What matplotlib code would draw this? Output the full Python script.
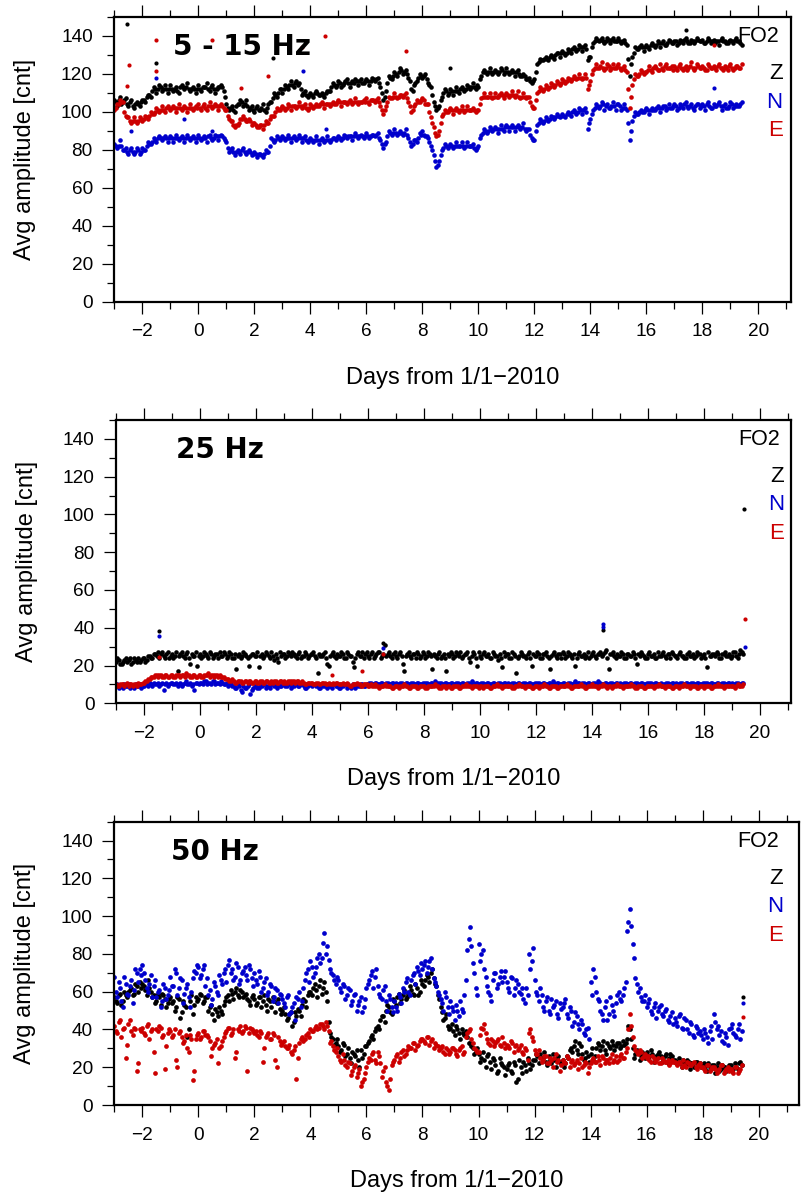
import numpy as np
import matplotlib
matplotlib.use('Agg')
import matplotlib.pyplot as plt
from matplotlib.ticker import MultipleLocator

# sampling times (days from 1/1-2010): 0.1 day step, plus half-step samples
days = np.round(np.arange(-3.0, 19.45, 0.1), 1)
days_mid = np.round(days[:-1] + 0.05, 2)

# ---------------- Panel 1: 5 - 15 Hz ----------------
z_5_15 = [
    106,103,108,105,107,103,106,102,105,103,
    106,105,109,108,113,110,114,111,114,110,
    114,111,113,110,114,112,115,111,113,110,
    114,111,113,115,111,114,110,113,114,111,
    104,101,103,100,104,106,103,106,101,103,
    100,103,101,104,100,104,105,110,108,112,
    110,114,112,116,113,116,115,109,111,108,
    110,108,111,109,110,108,111,111,115,113,
    116,113,115,117,113,116,117,114,117,115,
    117,114,118,116,118,113,106,111,119,117,
    121,119,123,120,122,118,112,114,116,120,
    118,120,115,113,105,101,103,108,112,109,
    112,109,113,110,113,111,114,112,115,112,
    113,119,122,120,123,120,122,120,123,120,
    123,120,122,119,122,119,120,117,118,115,
    117,125,128,127,129,127,130,128,131,129,
    132,130,133,131,134,132,135,132,135,127,
    129,136,139,137,139,136,139,136,139,137,
    139,136,138,135,119,129,134,133,135,132,
    135,133,136,134,137,134,137,135,138,136,
    137,135,138,136,139,136,138,136,139,137,
    138,136,139,136,138,137,135,139,137,136,
    138,136,139,137,135]
z_5_15_mid = [
    105,106,104,106,104,105,103,104,104,105,
    106,108,109,111,112,112,113,112,112,112,
    112,112,111,113,113,113,112,112,112,112,
    112,113,113,112,113,112,112,113,113,108,
    102,102,101,103,104,105,104,103,102,101,
    102,101,102,101,102,105,107,109,110,112,
    112,113,114,114,115,114,112,110,109,109,
    109,110,110,109,109,110,111,113,114,114,
    115,114,116,115,115,115,116,116,115,116,
    116,116,117,117,115,110,108,115,118,119,
    120,121,122,121,120,116,111,115,118,119,
    119,117,114,109,103,102,106,110,111,110,
    111,111,111,112,112,112,113,113,113,114,
    117,121,121,121,121,121,121,121,122,121,
    121,121,121,121,120,119,119,117,116,116,
    121,126,127,128,128,129,129,130,131,131,
    131,131,132,133,133,133,134,134,133,129,
    134,137,138,138,137,137,138,138,137,137,
    137,137,136,128,125,131,133,134,134,134,
    134,135,135,135,136,136,135,136,137,136,
    137,136,137,138,137,136,137,137,138,137,
    136,137,138,137,136,137,138,137,136,137,
    137,138,137,136]
n_5_15 = [
    83,81,85,80,81,78,81,78,81,78,
    81,80,84,83,86,84,87,85,87,84,
    87,84,88,85,87,84,88,85,87,84,
    88,85,87,84,88,85,88,85,88,86,
    84,79,81,77,80,78,81,78,80,77,
    79,76,78,76,80,79,86,84,87,85,
    87,85,88,84,87,85,88,84,87,84,
    86,84,87,83,86,84,87,84,86,85,
    87,85,88,86,87,85,89,86,88,86,
    89,86,88,87,89,85,81,84,90,88,
    91,88,90,88,91,86,82,85,84,89,
    90,87,86,82,77,71,74,80,83,81,
    83,81,84,82,84,81,84,82,83,80,
    82,88,91,89,92,90,92,89,93,90,
    93,90,93,90,93,91,94,90,91,86,
    85,93,96,94,97,95,98,96,99,97,
    99,97,100,98,101,99,102,99,102,91,
    96,101,104,102,105,101,104,102,105,101,
    104,101,104,101,85,95,100,99,101,100,
    102,99,102,101,103,100,103,101,104,102,
    104,101,104,102,105,102,104,101,104,102,
    104,101,105,102,104,103,105,101,104,102,
    105,102,104,103,105]
n_5_15_mid = [
    82,82,82,80,79,80,79,79,80,79,
    80,82,83,84,85,86,86,86,86,86,
    86,86,86,86,86,86,86,86,86,86,
    86,86,86,87,86,86,87,87,87,85,
    81,80,79,79,79,80,79,79,79,78,
    78,78,77,78,79,82,85,85,86,86,
    86,86,86,86,86,86,86,86,85,85,
    85,85,85,85,85,85,85,85,86,86,
    86,86,87,87,87,87,87,87,87,87,
    87,87,88,88,86,83,83,87,89,89,
    89,89,89,89,88,84,83,85,86,88,
    88,87,84,80,74,72,77,81,82,82,
    82,82,82,82,82,82,82,82,81,81,
    86,89,90,90,91,91,91,91,91,92,
    92,92,92,92,92,92,91,91,88,85,
    90,94,95,95,96,96,97,97,98,98,
    98,99,99,100,100,100,101,101,100,94,
    99,102,103,103,104,103,102,103,103,104,
    103,102,102,94,90,98,99,100,100,101,
    101,101,101,102,102,102,103,102,102,103,
    103,102,103,104,103,103,102,103,104,103,
    103,104,103,102,103,104,103,103,102,103,
    104,103,103,104]
e_5_15 = [
    101,104,106,105,98,97,94,97,94,97,
    95,98,96,100,99,102,100,103,100,103,
    101,103,100,104,101,103,100,104,101,103,
    104,101,104,101,105,102,104,101,104,102,
    101,96,95,92,93,96,98,95,96,93,
    94,92,93,91,95,94,98,98,102,101,
    103,101,104,101,103,102,105,102,104,101,
    104,102,104,103,105,102,104,103,105,104,
    106,103,105,104,106,104,107,104,105,106,
    107,104,106,105,107,103,99,103,108,107,
    110,107,109,108,110,105,100,103,106,105,
    107,104,104,97,92,87,90,98,101,100,
    102,99,102,100,103,100,103,101,102,100,
    101,107,110,108,110,107,110,108,110,107,
    110,108,111,108,111,107,110,107,108,103,
    102,110,113,111,114,112,115,113,116,114,
    117,115,118,116,119,117,120,117,120,112,
    116,122,125,123,126,122,125,122,125,123,
    125,122,124,121,102,114,120,119,122,120,
    121,124,121,124,122,125,122,125,123,124,
    124,122,125,122,124,123,126,122,125,123,
    124,122,125,123,124,122,125,123,124,122,
    125,122,124,123,125]
e_5_15_mid = [
    102,104,105,100,97,95,95,95,95,96,
    96,97,98,99,100,101,101,101,102,102,
    102,102,102,102,102,102,102,102,102,102,
    102,103,102,103,103,103,103,103,103,101,
    98,95,93,93,94,96,96,95,95,94,
    93,92,93,93,94,96,98,100,101,102,
    102,102,103,103,103,103,103,103,102,102,
    103,103,103,104,104,104,104,104,104,105,
    105,105,105,105,105,105,105,105,105,105,
    105,106,106,106,105,101,101,105,107,108,
    108,108,109,109,107,103,101,104,105,106,
    106,104,100,94,89,88,94,99,100,101,
    101,101,101,101,101,101,101,101,101,101,
    104,108,108,108,108,108,108,109,109,109,
    109,109,109,109,108,108,108,108,105,102,
    106,111,112,112,113,113,114,114,115,115,
    116,116,117,117,118,118,118,118,118,114,
    120,123,123,124,123,123,124,123,123,124,
    123,123,122,112,108,117,119,120,121,121,
    122,122,123,123,122,123,124,123,123,122,
    123,124,123,123,122,124,123,123,124,123,
    123,122,124,123,123,124,123,122,123,124,
    123,123,124,123]
# isolated points
z_5_15_out_days = [-2.55, -1.51, 2.67, 9.0, 17.4]
z_5_15_out_vals = [146, 125.6, 128.3, 123, 143]
n_5_15_out_days = [-1.51, 3.73, -0.5, -2.4, 0.5, 4.56, 18.4]
n_5_15_out_vals = [118, 121.5, 96, 90, 90, 91, 112.5]
e_5_15_out_days = [-1.51, 0.49, 4.53, -2.49, -1.51, 2.47, 3.7, -2.56, 1.52, 7.4, 18.4]
e_5_15_out_vals = [137.8, 137.8, 139.6, 124.7, 121.5, 118.6, 134, 113.6, 112.5, 132, 135.3]

# ---------------- Panel 2: 25 Hz ----------------
z_25 = [
    22,23,21,23,22,24,22,23,24,23,
    24,23,25,24,26,27,26,25,26,24,
    26,25,17,26,25,26,24,26,25,20,
    26,25,26,24,26,25,26,27,25,26,
    25,26,24,18,26,25,26,24,25,26,
    25,19,26,25,26,24,25,26,22,25,
    26,25,26,27,25,26,24,25,26,25,
    26,25,16,25,26,24,20,26,25,26,
    25,26,24,26,25,19,26,25,27,26,
    25,26,24,26,27,25,31,26,25,26,
    25,26,25,17,26,25,26,24,26,25,
    26,25,26,18,25,26,24,26,17,25,
    26,25,26,27,25,26,24,25,26,20,
    25,26,25,26,24,26,25,26,19,25,
    26,24,26,16,25,26,25,26,24,26,
    25,26,24,26,25,18,26,25,26,24,
    26,25,26,24,20,26,25,26,25,24,
    26,25,26,27,26,28,18,26,25,26,
    25,26,24,26,25,26,21,25,26,24,
    26,25,26,24,25,26,25,26,24,26,
    25,26,25,24,26,25,26,25,26,24,
    26,19,25,26,25,26,24,26,25,26,
    25,27,24,28,26]
z_25_mid = [
    24,21,22,24,23,21,24,22,22,24,
    22,25,24,26,25,24,27,24,27,25,
    24,27,25,27,24,27,21,25,27,25,
    24,27,25,27,24,26,24,25,27,24,
    27,24,26,25,24,27,25,20,26,25,
    27,25,24,27,25,27,23,24,27,26,
    24,27,25,26,24,27,25,27,24,26,
    27,24,26,25,27,21,25,27,24,25,
    27,24,27,25,22,24,27,25,24,27,
    24,27,25,27,24,26,25,27,24,27,
    24,27,21,25,27,24,26,27,24,27,
    24,27,25,26,24,27,25,24,26,27,
    24,27,25,24,26,27,22,27,24,27,
    24,27,25,24,27,25,23,24,27,26,
    24,27,25,24,27,25,24,27,20,25,
    27,24,26,27,24,25,27,24,26,27,
    24,27,25,26,24,27,25,24,27,25,
    27,24,26,25,27,24,26,27,24,25,
    27,24,26,25,27,24,26,27,25,24,
    27,25,24,27,25,27,24,26,27,25,
    24,27,25,24,27,25,24,27,26,25,
    24,27,25,26,27,24,26,27,25,24,
    27,25,26,27]
n_25 = [
    9,8,9,10,9,8,9,10,9,8,
    9,10,11,9,10,11,10,7,11,10,
    11,10,9,11,10,12,10,9,7,11,
    11,10,12,11,10,12,11,10,11,10,
    9,10,9,8,9,6,8,9,5,8,
    9,8,9,10,9,8,10,9,10,9,
    10,9,10,9,10,9,10,9,8,10,
    9,10,9,8,9,10,9,8,10,9,
    8,9,10,9,8,9,10,9,10,9,
    10,11,10,11,10,11,10,11,10,11,
    11,10,11,10,11,10,11,10,11,10,
    10,11,10,11,12,10,11,10,11,10,
    11,10,11,10,11,10,11,12,10,11,
    10,11,10,11,10,11,10,11,10,11,
    11,10,11,10,11,10,11,10,11,10,
    10,11,10,11,10,11,12,10,11,10,
    11,10,11,10,12,11,10,11,10,11,
    10,11,12,11,10,11,10,11,10,11,
    11,10,11,10,11,10,11,10,11,10,
    10,11,10,11,10,9,10,11,10,11,
    11,10,11,10,11,10,11,10,11,10,
    10,11,10,11,10,11,10,11,10,11,
    11,10,11,10,11]
n_25_mid = [
    10,9,8,9,10,9,8,9,10,9,
    10,9,10,11,10,9,11,10,9,11,
    10,11,10,9,11,10,11,10,11,10,
    11,12,10,11,12,10,11,12,10,11,
    10,9,8,10,7,9,8,10,7,9,
    8,9,10,8,9,10,9,8,9,10,
    9,10,8,9,10,9,10,8,9,10,
    10,9,8,10,9,8,9,10,9,8,
    9,10,8,9,10,8,9,10,9,10,
    11,10,11,10,11,10,11,10,11,10,
    10,11,10,11,10,11,10,11,10,11,
    11,10,11,10,11,11,10,11,10,11,
    10,11,10,11,10,11,10,11,11,10,
    11,10,11,10,11,10,11,10,11,10,
    10,11,10,11,10,11,10,11,10,11,
    11,10,11,10,11,10,11,11,10,11,
    10,11,10,11,10,11,11,10,11,10,
    11,10,11,10,11,10,11,10,11,10,
    10,11,10,11,10,11,10,11,10,11,
    11,10,11,10,11,10,11,10,11,10,
    10,11,10,11,10,11,10,11,10,11,
    11,10,11,10,11,10,11,10,11,10,
    10,11,10,11]
e_25 = [
    10,9,10,9,11,10,9,10,11,10,
    11,12,13,14,15,14,15,14,15,14,
    15,14,15,14,15,16,15,14,15,14,
    15,14,15,16,15,14,15,15,14,13,
    13,12,12,11,12,11,12,11,12,11,
    12,11,12,11,12,11,11,12,11,12,
    12,11,12,12,11,12,11,11,10,11,
    11,10,11,10,11,10,11,10,10,11,
    10,11,10,10,9,10,11,10,9,10,
    9,10,9,9,8,9,10,9,9,8,
    9,8,9,10,9,8,9,9,8,9,
    9,8,9,9,10,9,8,9,8,9,
    8,9,9,8,9,10,9,8,9,9,
    9,8,9,9,8,9,10,9,8,9,
    9,9,8,9,10,9,8,9,9,8,
    9,8,9,10,9,8,9,9,8,9,
    9,10,9,8,9,9,10,9,8,9,
    10,9,8,9,10,9,9,8,9,10,
    9,8,9,9,10,9,8,9,9,8,
    9,9,8,9,10,9,8,9,9,8,
    9,8,9,10,9,8,9,9,8,9,
    8,9,9,8,9,10,9,8,9,9,
    9,8,10,9,10]
e_25_mid = [
    9,10,10,10,9,10,10,9,10,11,
    12,13,14,14,15,15,14,15,14,15,
    14,15,15,15,14,15,14,15,14,15,
    14,15,15,14,15,15,14,14,14,13,
    12,13,11,12,12,11,12,12,11,12,
    11,12,11,12,11,12,12,11,12,11,
    11,12,11,12,12,11,12,10,11,11,
    10,11,10,11,11,10,10,11,11,10,
    10,10,11,9,10,10,10,9,10,10,
    9,9,10,9,9,9,9,9,8,9,
    9,9,9,9,8,9,9,8,9,9,
    8,9,9,9,9,8,9,9,9,8,
    9,9,8,9,9,9,9,9,9,8,
    9,9,9,8,9,9,9,9,9,9,
    9,8,9,9,9,9,9,9,8,9,
    9,9,9,9,8,9,9,8,9,9,
    9,9,8,9,9,9,9,8,9,9,
    9,9,9,9,9,8,9,9,9,9,
    9,9,9,9,9,8,9,9,8,9,
    9,9,9,9,9,9,9,9,8,9,
    9,9,9,9,9,9,9,8,9,9,
    9,9,8,9,9,9,9,9,9,9,
    9,9,9,9]
z_25_out_days = [-1.45, 14.38, 19.44, 6.52]
z_25_out_vals = [38.5, 39, 103, 31.9]
n_25_out_days = [-1.45, 14.38, 14.4, 19.45, 6.52]
n_25_out_vals = [35.5, 42, 40.5, 30, 29.5]
e_25_out_days = [19.45, -1.45, 5.8, 4.7, 6.52]
e_25_out_vals = [44.7, 24.5, 17, 15, 26]

# ---------------- Panel 3: 50 Hz ----------------
z_50 = [
    57,54,59,55,58,60,62,59,63,65,
    64,61,66,60,58,55,57,59,56,54,
    57,55,52,56,49,53,36,55,48,57,
    56,58,55,57,52,48,51,47,50,53,
    57,55,59,60,58,61,57,59,55,57,
    56,54,57,55,53,56,52,55,54,51,
    50,48,46,49,44,47,50,53,55,58,
    60,62,61,63,59,65,55,38,35,33,
    31,29,32,27,25,28,26,24,29,27,
    31,34,37,39,42,45,47,50,52,48,
    55,57,54,58,56,59,61,58,62,60,
    64,66,68,70,67,63,56,49,46,42,
    41,39,42,38,40,37,36,33,30,28,
    27,25,24,26,23,25,21,18,22,20,
    19,22,17,21,14,20,23,18,22,21,
    24,26,27,25,23,26,22,24,25,23,
    24,22,25,30,31,29,33,27,25,26,
    27,24,30,32,31,29,33,30,32,31,
    33,31,32,35,40,30,27,28,26,27,
    28,26,27,25,27,26,24,27,25,26,
    24,23,22,24,21,23,22,20,23,22,
    21,20,22,19,21,20,18,21,20,19,
    21,19,20,22,21]
z_50_mid = [
    55,58,53,60,57,61,58,64,60,62,
    63,58,62,57,54,59,53,58,52,56,
    54,50,57,46,55,52,40,58,53,55,
    59,54,57,50,53,45,49,52,48,55,
    58,61,56,62,57,60,58,56,53,58,
    53,57,52,58,50,55,57,49,56,48,
    52,45,48,42,49,51,47,56,52,60,
    58,64,57,66,62,60,44,36,32,35,
    28,33,26,30,22,27,29,20,25,31,
    33,36,35,41,40,47,44,53,49,56,
    53,59,56,61,57,63,59,64,58,66,
    63,69,65,72,64,58,52,45,48,40,
    43,37,40,35,38,39,33,31,27,30,
    23,28,20,27,19,24,17,25,21,16,
    21,18,23,12,24,17,21,25,19,24,
    27,22,25,28,21,24,27,20,26,22,
    20,26,29,28,34,27,31,24,28,23,
    30,26,33,29,34,27,31,34,29,33,
    30,34,33,42,35,25,29,24,28,25,
    25,29,23,26,28,23,26,22,27,24,
    22,25,20,23,24,19,22,23,21,20,
    22,18,20,21,17,22,19,20,18,21,
    18,22,19,23]
n_50 = [
    68,57,62,52,64,58,66,61,70,72,
    74,66,60,69,63,57,61,55,62,58,
    68,63,70,62,66,59,64,52,67,70,
    73,69,74,67,61,56,63,58,66,70,
    65,77,72,68,73,66,71,69,74,67,
    70,64,68,62,67,60,63,57,61,59,
    56,52,58,49,54,57,60,55,66,72,
    76,68,73,80,78,91,84,72,69,64,
    66,60,63,58,61,55,59,53,57,52,
    62,66,71,68,63,57,61,55,58,52,
    55,50,57,62,65,60,66,70,73,69,
    72,76,73,78,67,63,58,54,60,52,
    55,50,53,47,51,58,82,94,75,62,
    85,80,72,63,58,66,70,64,71,68,
    65,60,67,62,64,59,56,62,80,76,
    66,58,62,52,55,50,56,53,48,54,
    52,56,46,50,44,47,40,43,37,41,
    65,72,60,55,48,52,45,57,50,54,
    60,55,62,92,104,85,67,60,57,55,
    52,56,48,54,50,53,47,51,44,49,
    46,42,48,40,45,38,43,36,41,39,
    35,38,33,42,48,40,37,34,38,32,
    41,38,36,43,39]
n_50_mid = [
    60,65,55,68,59,63,54,72,65,69,
    70,62,64,57,66,60,52,64,56,61,
    63,72,58,67,54,62,57,60,71,74,
    67,72,63,58,53,65,60,69,64,72,
    74,70,66,75,64,70,73,66,72,63,
    66,71,60,65,58,64,55,62,54,58,
    54,57,48,52,45,56,52,62,70,65,
    73,70,78,75,86,80,77,70,66,68,
    62,64,56,62,53,58,50,55,49,56,
    64,69,62,72,59,56,63,50,56,49,
    52,59,54,60,67,58,69,64,71,75,
    74,70,76,72,65,60,56,50,57,48,
    52,45,50,55,49,66,88,84,70,58,
    76,82,68,60,55,70,62,68,65,71,
    62,68,58,66,60,62,54,58,72,83,
    60,55,58,50,57,48,52,55,46,51,
    54,48,52,42,49,43,45,38,40,35,
    58,68,56,50,45,55,48,53,47,58,
    56,58,65,97,95,78,64,62,55,58,
    54,50,52,46,52,48,50,45,47,43,
    44,47,41,46,40,44,37,42,38,37,
    40,36,39,35,44,42,39,33,36,40,
    43,37,40,35]
e_50 = [
    42,38,45,40,25,43,39,41,18,40,
    41,37,43,39,28,40,42,36,19,38,
    39,37,24,38,36,34,30,37,13,35,
    38,36,39,37,34,30,33,22,31,36,
    39,41,38,25,40,42,39,41,38,40,
    38,37,39,23,36,38,35,37,20,34,
    33,31,30,28,29,14,33,36,35,38,
    40,39,42,41,43,40,42,33,31,28,
    26,23,24,20,22,18,21,17,10,14,
    20,25,27,24,28,22,18,12,8,21,
    24,27,25,29,27,31,30,33,31,34,
    35,33,36,34,30,32,29,31,27,29,
    28,30,27,29,31,28,38,40,33,29,
    28,41,43,35,32,34,33,35,31,33,
    32,30,33,31,29,32,27,29,38,36,
    29,27,25,24,26,22,24,25,23,18,
    24,22,25,23,21,24,22,20,23,17,
    22,25,23,24,26,22,24,25,23,26,
    24,27,25,30,48,36,29,27,28,26,
    25,24,26,23,25,22,24,23,21,24,
    23,21,22,24,20,22,21,23,19,22,
    20,18,21,19,20,17,19,21,18,20,
    19,17,20,18,21]
e_50_mid = [
    39,44,36,41,32,45,37,40,22,39,
    38,42,35,40,17,39,41,37,31,40,
    36,40,20,39,33,37,28,35,18,37,
    35,39,37,36,26,32,35,30,34,38,
    41,37,40,28,39,38,42,18,41,39,
    39,36,38,30,37,35,38,24,36,32,
    34,30,32,27,31,25,35,34,37,36,
    39,41,40,43,42,44,39,34,29,30,
    24,27,21,23,16,20,15,19,12,17,
    23,24,28,22,26,15,20,10,14,23,
    26,23,28,26,29,30,33,29,32,35,
    34,36,32,35,33,31,30,28,30,27,
    30,29,26,30,27,36,39,35,30,28,
    37,40,38,33,35,31,34,32,36,30,
    31,34,28,32,30,28,30,24,40,34,
    27,29,23,26,22,25,20,27,24,21,
    23,26,20,24,22,19,25,21,22,20,
    24,23,26,21,25,24,22,27,24,23,
    26,25,28,40,42,31,28,29,25,27,
    26,23,25,24,22,25,23,24,22,23,
    22,23,20,21,23,21,22,20,21,20,
    19,21,18,20,19,18,21,17,19,18,
    18,20,17,19]
z_50_out_days = [19.45]
z_50_out_vals = [57]
n_50_out_days = [19.45]
n_50_out_vals = [54]
e_50_out_days = [19.45]
e_50_out_vals = [46.5]

panel_titles = ["5 - 15 Hz", "25 Hz", "50 Hz"]
station = "FO2"
components = ["Z", "N", "E"]
comp_colors = ["#000000", "#0000cc", "#cc0000"]

all_days = np.concatenate([days, days_mid])
panels = [
    ([z_5_15 + z_5_15_mid, n_5_15 + n_5_15_mid, e_5_15 + e_5_15_mid],
     [(z_5_15_out_days, z_5_15_out_vals), (n_5_15_out_days, n_5_15_out_vals), (e_5_15_out_days, e_5_15_out_vals)]),
    ([z_25 + z_25_mid, n_25 + n_25_mid, e_25 + e_25_mid],
     [(z_25_out_days, z_25_out_vals), (n_25_out_days, n_25_out_vals), (e_25_out_days, e_25_out_vals)]),
    ([z_50 + z_50_mid, n_50 + n_50_mid, e_50 + e_50_mid],
     [(z_50_out_days, z_50_out_vals), (n_50_out_days, n_50_out_vals), (e_50_out_days, e_50_out_vals)]),
]

W, H = 801, 1194
fig = plt.figure(figsize=(W / 100, H / 100), dpi=100)
rects = [
    [114.3 / W, 1 - 301.7 / H, 676.4 / W, 285.0 / H],
    [116.0 / W, 1 - 703.3 / H, 674.7 / W, 283.3 / H],
    [114.3 / W, 1 - 1105.0 / H, 684.7 / W, 283.3 / H],
]
xmaxs = [21.15, 21.1, 21.44]
title_x = [-0.92, -0.87, -0.96]
msizes = [3.3, 3.3, 3.4]

lab_font = "Liberation Sans"

for i, (series, outliers) in enumerate(panels):
    ax = fig.add_axes(rects[i])
    for vals, (od, ov), col in zip(series, outliers, comp_colors):
        ax.plot(all_days, vals, linestyle="none", marker="o", markersize=msizes[i],
                markeredgewidth=0, color=col)
        ax.plot(od, ov, linestyle="none", marker="o", markersize=3.0,
                markeredgewidth=0, color=col)
    ax.set_xlim(-3.0, xmaxs[i])
    ax.set_ylim(0, 150)
    ax.xaxis.set_major_locator(MultipleLocator(2))
    ax.xaxis.set_minor_locator(MultipleLocator(1))
    ax.yaxis.set_major_locator(MultipleLocator(20))
    ax.yaxis.set_minor_locator(MultipleLocator(10))
    ax.set_yticks([0, 20, 40, 60, 80, 100, 120, 140])
    for sp in ax.spines.values():
        sp.set_linewidth(1.6)
    ax.tick_params(axis="x", which="both", direction="out", top=True, bottom=True,
                   labeltop=False)
    ax.tick_params(axis="y", which="both", direction="out", left=True, right=False)
    ax.tick_params(which="major", length=8.5, width=0.9, labelsize=13.7, pad=7)
    ax.tick_params(which="minor", length=4.8, width=0.9)
    for lab in ax.get_xticklabels() + ax.get_yticklabels():
        lab.set_fontfamily(lab_font)
    ax.set_xlabel("Days from 1/1\u22122010", fontsize=17, family=lab_font, labelpad=19)
    ax.set_ylabel("Avg amplitude [cnt]", fontsize=17, family=lab_font, labelpad=18)
    ax.text(title_x[i], 134, panel_titles[i], fontsize=20, fontweight="bold",
            family="DejaVu Sans", ha="left", va="center")
    ax.text(20.72, 139.5, station, fontsize=15.5, family=lab_font, ha="right", va="center")
    for comp, col, yv in zip(components, comp_colors, [120, 105, 90]):
        ax.text(20.86, yv, comp, fontsize=16, family=lab_font, color=col,
                ha="right", va="center")

fig.savefig("out.png", dpi=100)
